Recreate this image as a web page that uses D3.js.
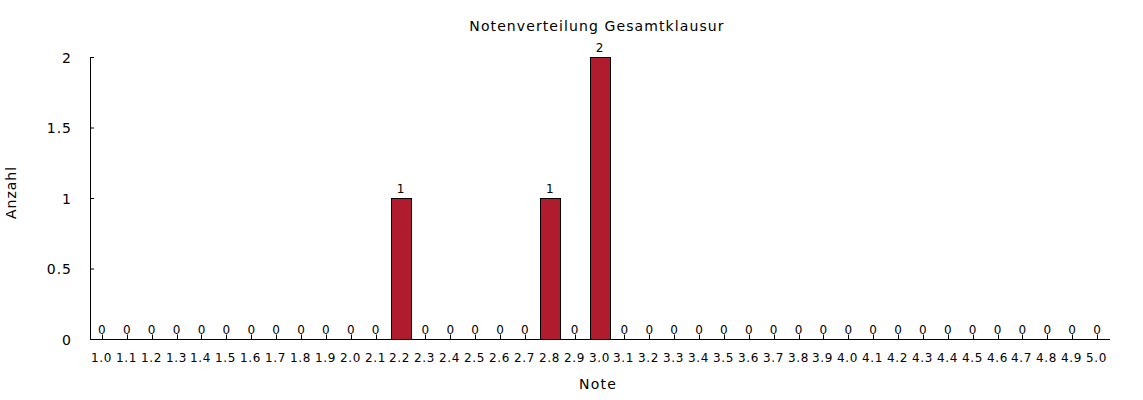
<!DOCTYPE html>
<html><head><meta charset="utf-8">
<script src="https://cdn.jsdelivr.net/npm/d3@7"></script>
<style>body{margin:0;background:#fff}text{font-family:"DejaVu Sans",sans-serif;fill:#000}</style>
</head><body><svg id="c" width="1143" height="400"></svg>
<script>
const categories = ["1.0","1.1","1.2","1.3","1.4","1.5","1.6","1.7","1.8","1.9","2.0","2.1","2.2","2.3","2.4","2.5","2.6","2.7","2.8","2.9","3.0","3.1","3.2","3.3","3.4","3.5","3.6","3.7","3.8","3.9","4.0","4.1","4.2","4.3","4.4","4.5","4.6","4.7","4.8","4.9","5.0"];
const counts = [0,0,0,0,0,0,0,0,0,0,0,0,1,0,0,0,0,0,1,0,2,0,0,0,0,0,0,0,0,0,0,0,0,0,0,0,0,0,0,0,0];
const yTicks = [0,0.5,1,1.5,2];
const title = "Notenverteilung Gesamtklausur";
const xTitle = "Note", yTitle = "Anzahl";

const svg = d3.select("#c");
const x = d3.scaleBand().domain(categories).range([89.5,1109.5]).paddingInner(0.2).paddingOuter(0.1);
const y = d3.scaleLinear().domain([0,2]).range([339.5,57.5]);

// axes
svg.append("line").attr("x1",90.5).attr("x2",90.5).attr("y1",57).attr("y2",339.5).attr("stroke","#000");
svg.append("line").attr("x1",90).attr("x2",1110).attr("y1",339.5).attr("y2",339.5).attr("stroke","#000");
yTicks.forEach(t=>{
  svg.append("line").attr("x1",90).attr("x2",94).attr("y1",y(t)).attr("y2",y(t)).attr("stroke","#000");
  svg.append("text").attr("x",72).attr("y",y(t)+5).attr("text-anchor","end").attr("font-size",14).attr("letter-spacing",1).text(d3.format("")(t));
});
categories.forEach(c=>{
  const cx = Math.round(x(c)+x.bandwidth()/2)+0.5;
  svg.append("line").attr("x1",cx).attr("x2",cx).attr("y1",339).attr("y2",334.5).attr("stroke","#000");
  svg.append("text").attr("x",cx-1).attr("y",362).attr("text-anchor","middle").attr("font-size",12).attr("letter-spacing",0.6).text(c);
});
// bars and value labels
categories.forEach((c,i)=>{
  const v = counts[i];
  if(v>0){
    svg.append("rect").attr("x",Math.round(x(c))+0.5).attr("y",y(v))
      .attr("width",Math.round(x.bandwidth())).attr("height",y(0)-y(v))
      .attr("fill","#b01c2e").attr("stroke","#000").attr("stroke-width",1);
  }
  svg.append("text").attr("x",x(c)+x.bandwidth()/2).attr("y",y(v)-6).attr("text-anchor","middle").attr("font-size",12).text(v);
});
svg.append("text").attr("x",597).attr("y",31).attr("text-anchor","middle").attr("font-size",14).attr("letter-spacing",1.1).text(title);
svg.append("text").attr("x",598).attr("y",388.5).attr("text-anchor","middle").attr("font-size",14).attr("letter-spacing",1.2).text(xTitle);
svg.append("text").attr("transform","translate(15.5,192.5) rotate(-90)").attr("text-anchor","middle").attr("font-size",14).attr("letter-spacing",1).text(yTitle);
</script></body></html>
